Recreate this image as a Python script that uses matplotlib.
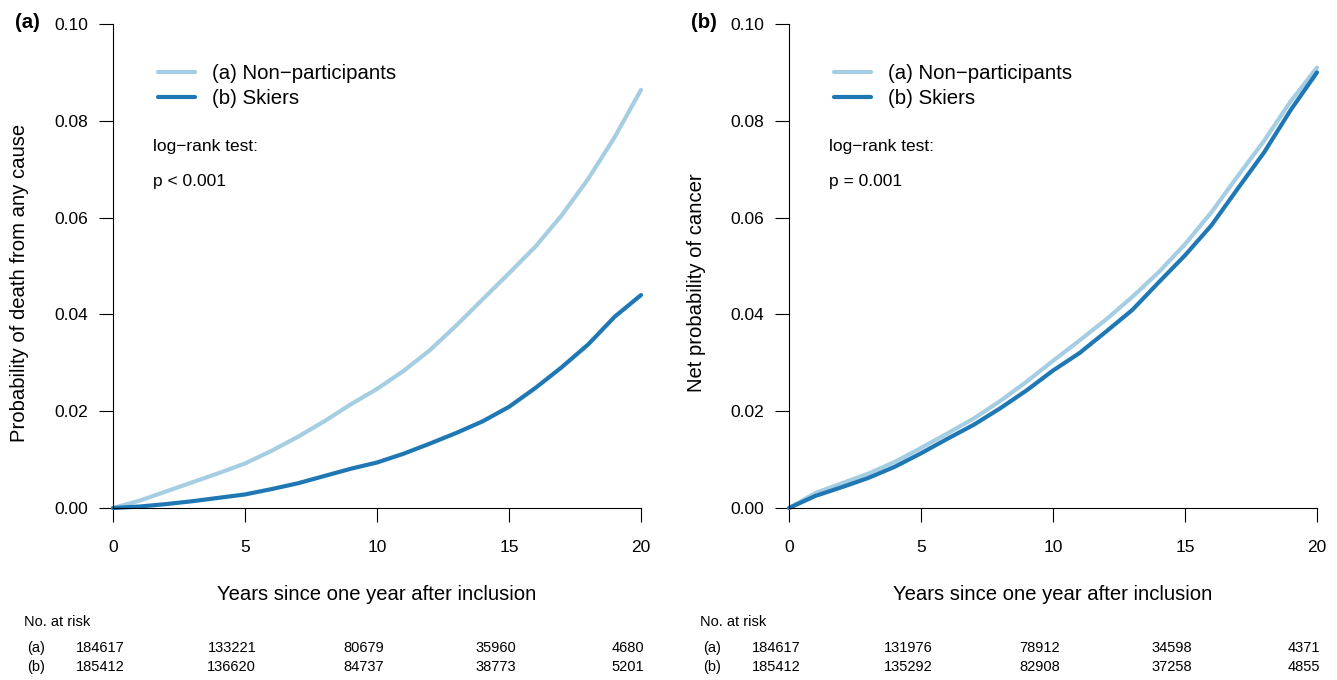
import matplotlib
matplotlib.use("Agg")
import matplotlib.pyplot as plt
import matplotlib.transforms as mtransforms
from matplotlib.ticker import FormatStrFormatter

plt.rcParams['font.family'] = ['Liberation Sans', 'DejaVu Sans']

# years since one year after inclusion
years = [0, 1, 2, 3, 4, 5, 6, 7, 8, 9, 10, 11, 12, 13, 14, 15, 16, 17, 18, 19, 20]

# (a) probability of death from any cause
death_nonpart = [0, 0.0015, 0.0034, 0.0053, 0.0072, 0.0092, 0.0118, 0.0147, 0.0179, 0.0214, 0.0246,
                 0.0283, 0.0326, 0.0377, 0.0431, 0.0485, 0.0540, 0.0605, 0.0680, 0.0766, 0.0864]
death_skiers = [0, 0.0003, 0.0008, 0.0014, 0.0021, 0.0028, 0.0039, 0.0051, 0.0066, 0.0081, 0.0094,
                0.0112, 0.0133, 0.0155, 0.0179, 0.0209, 0.0248, 0.0291, 0.0338, 0.0395, 0.0440]

# (b) net probability of cancer
cancer_nonpart = [0, 0.0031, 0.0051, 0.0071, 0.0095, 0.0124, 0.0154, 0.0185, 0.0221, 0.0261, 0.0304,
                  0.0346, 0.0389, 0.0436, 0.0487, 0.0545, 0.0611, 0.0686, 0.0759, 0.0840, 0.0910]
cancer_skiers = [0, 0.0025, 0.0043, 0.0062, 0.0085, 0.0113, 0.0143, 0.0172, 0.0206, 0.0243, 0.0284,
                 0.0320, 0.0364, 0.0409, 0.0466, 0.0522, 0.0584, 0.0660, 0.0735, 0.0822, 0.0900]

risk_years = [0, 5, 10, 15, 20]
risk_death_a = [184617, 133221, 80679, 35960, 4680]
risk_death_b = [185412, 136620, 84737, 38773, 5201]
risk_cancer_a = [184617, 131976, 78912, 34598, 4371]
risk_cancer_b = [185412, 135292, 82908, 37258, 4855]

group_labels = ['(a) Non\u2212participants', '(b) Skiers']
yticks = [0, 0.02, 0.04, 0.06, 0.08, 0.10]
light = '#a6cee3'
dark = '#1f78b4'

W, H = 1337, 680
fig = plt.figure(figsize=(W / 100, H / 100), dpi=100)


def panel(left, tag, ylabel, ptext, ya, yb, ra, rb):
    ax = fig.add_axes([left / W, 172 / H, 528 / W, 484 / H])
    ax.plot(years, ya, color=light, lw=3, solid_capstyle='round', clip_on=False, label=group_labels[0])
    ax.plot(years, yb, color=dark, lw=3, solid_capstyle='round', clip_on=False, label=group_labels[1])
    ax.set_xlim(0, 20)
    ax.set_ylim(0, 0.1)
    ax.set_xticks(risk_years)
    ax.set_yticks(yticks)
    ax.yaxis.set_major_formatter(FormatStrFormatter('%.2f'))
    for s in ['top', 'right']:
        ax.spines[s].set_visible(False)
    for s in ['left', 'bottom']:
        ax.spines[s].set_linewidth(0.8)
    ax.tick_params(length=10, width=0.8, labelsize=12.5, direction='out')
    ax.tick_params(axis='x', pad=13)
    ax.tick_params(axis='y', pad=8)

    ax.legend(loc='upper left', bbox_to_anchor=(0.085, 0.917), frameon=False, fontsize=14.7,
              handlelength=1.8, handletextpad=0.85, labelspacing=0.27, borderpad=0, borderaxespad=0)
    ax.text(0.075, 0.7465, 'log\u2212rank test:', transform=ax.transAxes, fontsize=12.5, va='center')
    ax.text(0.075, 0.674, ptext, transform=ax.transAxes, fontsize=12.5, va='center')

    fig.text((left - 98) / W, 1 - 22.5 / H, tag, fontsize=14.7, fontweight='bold', va='center')
    fig.text((left - 93) / W, 1 - 283 / H, ylabel, fontsize=14.6, rotation=90, ha='center', va='center')
    fig.text((left + 264) / W, 1 - 594 / H, 'Years since one year after inclusion',
             fontsize=14.6, ha='center', va='center')

    # number at risk table
    trans = mtransforms.blended_transform_factory(ax.transData, fig.transFigure)
    fig.text((left - 89) / W, 1 - 622 / H, 'No. at risk', fontsize=10.5, va='center')
    for row, (lab, vals) in enumerate(zip(['(a)', '(b)'], [ra, rb])):
        yy = 1 - (648 + 19 * row) / H
        fig.text((left - 77) / W, yy, lab, fontsize=10.5, ha='center', va='center')
        for t, n in zip(risk_years, vals):
            ax.text(t - 0.5, yy, str(n), transform=trans, fontsize=10.5, ha='center', va='center')
    return ax


panel(113, '(a)', 'Probability of death from any cause', 'p < 0.001',
      death_nonpart, death_skiers, risk_death_a, risk_death_b)
panel(789, '(b)', 'Net probability of cancer', 'p = 0.001',
      cancer_nonpart, cancer_skiers, risk_cancer_a, risk_cancer_b)

fig.savefig('out.png', dpi=100)
